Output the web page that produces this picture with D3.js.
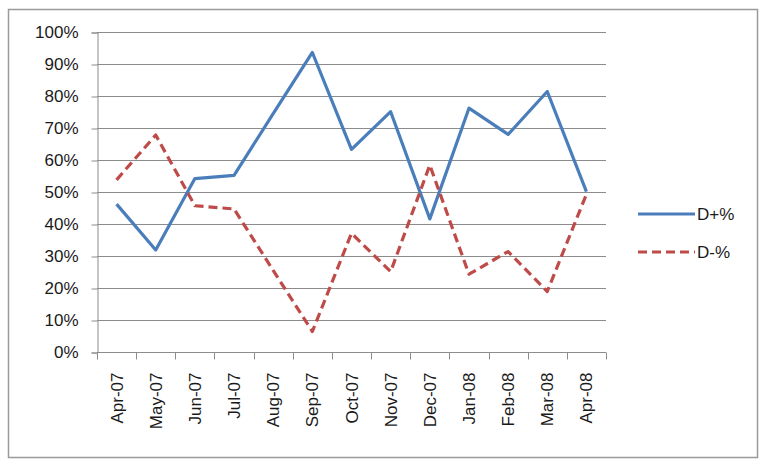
<!DOCTYPE html>
<html>
<head>
<meta charset="utf-8">
<script src="https://d3js.org/d3.v7.min.js"></script>
<style>
  body { margin: 0; background: #fff; }
  svg { display: block; font-family: "Liberation Sans", Arial, sans-serif; }
</style>
</head>
<body>
<div id="chart"></div>
<script>
// Chart data
const months = ["Apr-07", "May-07", "Jun-07", "Jul-07", "Aug-07", "Sep-07", "Oct-07",
                "Nov-07", "Dec-07", "Jan-08", "Feb-08", "Mar-08", "Apr-08"];
const dPlus  = [46.2, 31.9, 54.2, 55.2, 74.5, 93.6, 63.3, 75.1, 41.6, 76.2, 68.0, 81.4, 50.1];
const dMinus = [53.8, 67.8, 45.7, 44.7, 25.5, 6.4, 37.1, 25.1, 58.4, 24.3, 31.4, 18.9, 49.3];
const yTicks = [0, 10, 20, 30, 40, 50, 60, 70, 80, 90, 100];

const series = [
    { name: "D+%", values: dPlus,  color: "#4A7EBB", dash: null },
    { name: "D-%", values: dMinus, color: "#BE4B48", dash: "9,5" }
];

const width = 767, height = 467;
const plot = { left: 97, right: 606, top: 32, bottom: 352 };
const gridColor = "#8c8c8c";
const textColor = "#1a1a1a";

const svg = d3.select("#chart").append("svg")
    .attr("width", width)
    .attr("height", height);

// outer chart border
svg.append("rect")
    .attr("x", 8.5).attr("y", 9.5)
    .attr("width", 749).attr("height", 448)
    .attr("fill", "#fff")
    .attr("stroke", "#9a9a9a")
    .attr("stroke-width", 1.5);

const x = d3.scaleBand()
    .domain(months)
    .range([plot.left, plot.right]);

const y = d3.scaleLinear()
    .domain([0, 100])
    .range([plot.bottom, plot.top]);

// gridlines
svg.append("g")
    .selectAll("line")
    .data(yTicks)
    .enter().append("line")
    .attr("x1", plot.left)
    .attr("x2", plot.right)
    .attr("y1", d => Math.round(y(d)) + 0.5)
    .attr("y2", d => Math.round(y(d)) + 0.5)
    .attr("stroke", gridColor)
    .attr("stroke-width", 1);

// y axis
const yAxis = svg.append("g")
    .attr("transform", `translate(${plot.left + 0.5},0.5)`)
    .call(d3.axisLeft(y).tickValues(yTicks).tickSize(6).tickPadding(13).tickFormat(d => d + "%"));
yAxis.select(".domain").attr("stroke", gridColor);
yAxis.selectAll(".tick line").attr("stroke", gridColor);
yAxis.selectAll("text")
    .attr("fill", textColor)
    .style("font-size", "17px");

// x axis: ticks at category boundaries
const xAxisG = svg.append("g")
    .attr("transform", `translate(0,${plot.bottom + 0.5})`);
xAxisG.append("line")
    .attr("x1", plot.left).attr("x2", plot.right)
    .attr("stroke", gridColor);
const boundaries = months.map(m => x(m)).concat([x(months[months.length - 1]) + x.bandwidth()]);
xAxisG.selectAll(".btick")
    .data(boundaries)
    .enter().append("line")
    .attr("class", "btick")
    .attr("x1", d => Math.round(d) + 0.5)
    .attr("x2", d => Math.round(d) + 0.5)
    .attr("y1", 0).attr("y2", 7)
    .attr("stroke", gridColor);
xAxisG.selectAll(".xlabel")
    .data(months)
    .enter().append("text")
    .attr("class", "xlabel")
    .attr("transform", d => `translate(${x(d) + x.bandwidth() / 2 + 6},20) rotate(-90)`)
    .attr("text-anchor", "end")
    .attr("fill", textColor)
    .style("font-size", "17px")
    .text(d => d);

// lines
const line = d3.line()
    .x((d, i) => x(months[i]) + x.bandwidth() / 2)
    .y(d => y(d));

series.forEach(s => {
    svg.append("path")
        .datum(s.values)
        .attr("fill", "none")
        .attr("stroke", s.color)
        .attr("stroke-width", 3.2)
        .attr("stroke-linejoin", "round")
        .attr("stroke-dasharray", s.dash)
        .attr("d", line);
});

// legend
const legend = svg.append("g")
    .selectAll("g")
    .data(series)
    .enter().append("g")
    .attr("transform", (d, i) => `translate(638,${214 + i * 38})`);
legend.append("line")
    .attr("x1", 0).attr("x2", 57)
    .attr("stroke", d => d.color)
    .attr("stroke-width", 3.2)
    .attr("stroke-dasharray", d => d.dash);
legend.append("text")
    .attr("x", 59)
    .attr("dy", "0.35em")
    .attr("fill", textColor)
    .style("font-size", "17px")
    .text(d => d.name);
</script>
</body>
</html>
